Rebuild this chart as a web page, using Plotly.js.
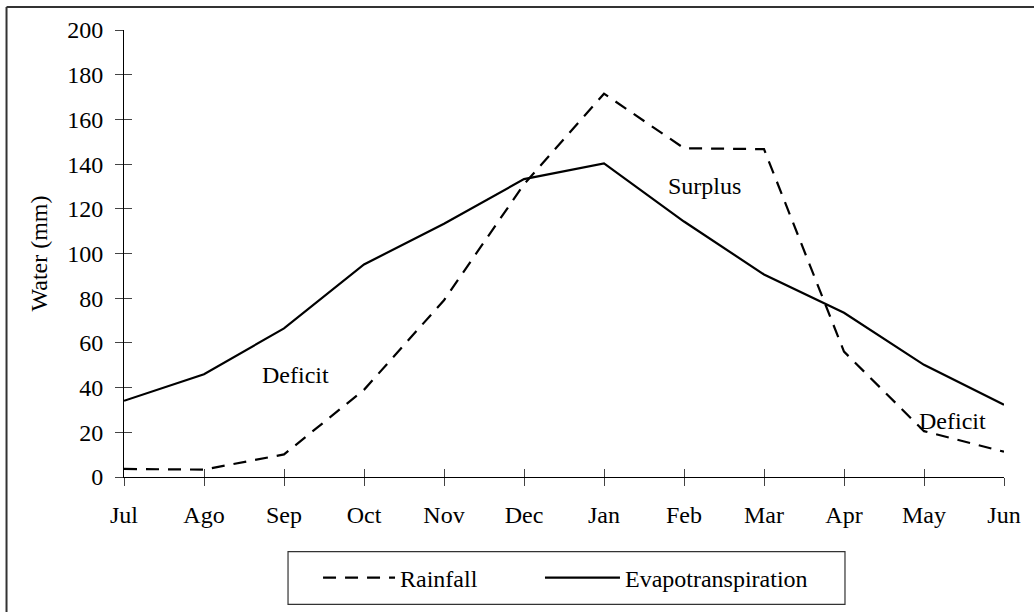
<!DOCTYPE html>
<html>
<head>
<meta charset="utf-8">
<script src="https://cdn.plot.ly/plotly-3.0.1.min.js"></script>
<style>html,body{margin:0;padding:0;background:#fff;}#chart{width:1034px;height:612px;}</style>
</head>
<body>
<div id="chart"></div>
<script>
const months = ["Jul","Ago","Sep","Oct","Nov","Dec","Jan","Feb","Mar","Apr","May","Jun"];
const rainfall = [3.6, 3.3, 10.1, 39.0, 79.1, 131.0, 171.5, 147.1, 146.7, 56.1, 20.5, 11.3];
const evapotranspiration = [34.1, 46.0, 66.5, 95.1, 113.3, 133.3, 140.3, 114.3, 90.6, 73.5, 50.2, 32.3];
const yTicks = [0,20,40,60,80,100,120,140,160,180,200];
const labels = [
  {text:"Deficit", x:2.14, y:45.7},
  {text:"Surplus", x:7.26, y:130.3},
  {text:"Deficit", x:10.36, y:25.2}
];

const font = {family:"Liberation Serif", size:24, color:"#000"};
const xs = months.map((m,i)=>i);

const traces = [
  {x:xs, y:rainfall, name:"Rainfall", type:"scatter", mode:"lines", legend:"legend",
   line:{color:"#000", width:2.2, dash:"13px,9px"}},
  {x:xs, y:evapotranspiration, name:"Evapotranspiration", type:"scatter", mode:"lines", legend:"legend2",
   line:{color:"#000", width:2.2}},
  {x:xs, y:evapotranspiration.map(()=>null), xaxis:"x2", yaxis:"y2", mode:"lines", showlegend:false, hoverinfo:"skip"}
];

const legBase = {orientation:"h", yanchor:"middle", y:-0.226, xanchor:"left",
  borderwidth:0, bgcolor:"rgba(0,0,0,0)", font:font};
const layout = {
  width:1034, height:612,
  margin:{l:124, r:30, t:30, b:133},
  paper_bgcolor:"#fff", plot_bgcolor:"rgba(0,0,0,0)",
  font:font,
  showlegend:true,
  legend:Object.assign({}, legBase, {x:0.2205, itemwidth:72}),
  legend2:Object.assign({}, legBase, {x:0.4727, itemwidth:75}),
  xaxis:{range:[0,11], tickmode:"array", tickvals:xs, ticktext:months,
    showgrid:false, zeroline:false, showline:true, linecolor:"#000", linewidth:1,
    ticks:"outside", ticklen:8, tickcolor:"#444", tickwidth:1, tickfont:font, ticklabelstandoff:8},
  yaxis:{range:[0,200], tickmode:"array", tickvals:yTicks,
    showgrid:false, zeroline:false, showline:true, linecolor:"#000", linewidth:1,
    ticks:"outside", ticklen:8, tickcolor:"#444", tickwidth:1, tickfont:font, ticklabelstandoff:7,
    title:{text:"Water (mm)", font:font, standoff:12}},
  xaxis2:{overlaying:"x", range:[0,11], tickmode:"array", tickvals:xs, showticklabels:false,
    ticks:"inside", ticklen:8, tickcolor:"#444", tickwidth:1, showgrid:false, zeroline:false, showline:false, side:"bottom", anchor:"y2"},
  yaxis2:{overlaying:"y", range:[0,200], tickmode:"array", tickvals:yTicks, showticklabels:false,
    ticks:"inside", ticklen:8, tickcolor:"#444", tickwidth:1, showgrid:false, zeroline:false, showline:false, side:"left", anchor:"x2"},
  annotations: labels.map(l=>({x:l.x, y:l.y, xref:"x", yref:"y", text:l.text, showarrow:false, font:font})),
  shapes:[
    {type:"line", xref:"paper", yref:"paper", x0:-0.1335, x1:1.1, y0:1.0512, y1:1.0512, line:{color:"#333", width:2}},
    {type:"line", xref:"paper", yref:"paper", x0:-0.1335, x1:-0.1335, y0:1.0512, y1:-0.4, line:{color:"#333", width:2}},
    {type:"rect", xref:"paper", yref:"paper", x0:0.1864, x1:0.8193, y0:-0.167, y1:-0.285, line:{color:"#333", width:1.2}, fillcolor:"rgba(0,0,0,0)"}
  ]
};
Plotly.newPlot("chart", traces, layout, {displayModeBar:false, staticPlot:true});
</script>
</body>
</html>
